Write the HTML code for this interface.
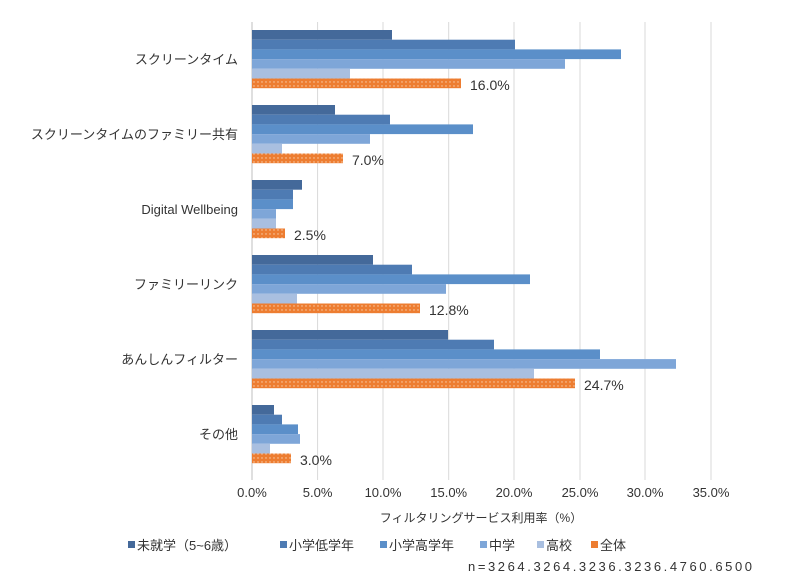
<!DOCTYPE html>
<html><head><meta charset="utf-8"><style>
body{margin:0;background:#fff;}
svg text{font-family:"Liberation Sans","Noto Sans CJK JP",sans-serif;fill:#333;}
</style></head><body>
<svg width="800" height="578" xmlns="http://www.w3.org/2000/svg">
<defs>
<pattern id="dots" width="4" height="4" patternUnits="userSpaceOnUse">
<rect width="4" height="4" fill="#ed7d31"/><circle cx="2" cy="2" r="0.7" fill="#f8d0b0"/>
</pattern>
</defs>
<g stroke="#d9d9d9" stroke-width="1">
<line x1="317.6" y1="22" x2="317.6" y2="480"/><line x1="383" y1="22" x2="383" y2="480"/>
<line x1="448.7" y1="22" x2="448.7" y2="480"/><line x1="514" y1="22" x2="514" y2="480"/>
<line x1="580" y1="22" x2="580" y2="480"/><line x1="645" y1="22" x2="645" y2="480"/>
<line x1="711" y1="22" x2="711" y2="480"/>
</g>
<line x1="252" y1="22" x2="252" y2="480" stroke="#bfbfbf"/>
<g>
<rect x="252" y="30" width="140" height="9.7" fill="#44699a"/>
<rect x="252" y="39.7" width="263" height="9.7" fill="#4e7bb3"/>
<rect x="252" y="49.4" width="369" height="9.7" fill="#5b8fc9"/>
<rect x="252" y="59.1" width="313" height="9.7" fill="#7ea6d8"/>
<rect x="252" y="68.8" width="98" height="9.7" fill="#a9bfe0"/>
<rect x="252" y="78.5" width="209" height="9.7" fill="url(#dots)"/>

<rect x="252" y="105" width="83" height="9.7" fill="#44699a"/>
<rect x="252" y="114.7" width="138" height="9.7" fill="#4e7bb3"/>
<rect x="252" y="124.4" width="221" height="9.7" fill="#5b8fc9"/>
<rect x="252" y="134.1" width="118" height="9.7" fill="#7ea6d8"/>
<rect x="252" y="143.8" width="30" height="9.7" fill="#a9bfe0"/>
<rect x="252" y="153.5" width="91" height="9.7" fill="url(#dots)"/>

<rect x="252" y="180" width="50" height="9.7" fill="#44699a"/>
<rect x="252" y="189.7" width="41" height="9.7" fill="#4e7bb3"/>
<rect x="252" y="199.4" width="41" height="9.7" fill="#5b8fc9"/>
<rect x="252" y="209.1" width="24" height="9.7" fill="#7ea6d8"/>
<rect x="252" y="218.8" width="24" height="9.7" fill="#a9bfe0"/>
<rect x="252" y="228.5" width="33" height="9.7" fill="url(#dots)"/>

<rect x="252" y="255" width="121" height="9.7" fill="#44699a"/>
<rect x="252" y="264.7" width="160" height="9.7" fill="#4e7bb3"/>
<rect x="252" y="274.4" width="278" height="9.7" fill="#5b8fc9"/>
<rect x="252" y="284.1" width="194" height="9.7" fill="#7ea6d8"/>
<rect x="252" y="293.8" width="45" height="9.7" fill="#a9bfe0"/>
<rect x="252" y="303.5" width="168" height="9.7" fill="url(#dots)"/>

<rect x="252" y="330" width="196" height="9.7" fill="#44699a"/>
<rect x="252" y="339.7" width="242" height="9.7" fill="#4e7bb3"/>
<rect x="252" y="349.4" width="348" height="9.7" fill="#5b8fc9"/>
<rect x="252" y="359.1" width="424" height="9.7" fill="#7ea6d8"/>
<rect x="252" y="368.8" width="282" height="9.7" fill="#a9bfe0"/>
<rect x="252" y="378.5" width="323" height="9.7" fill="url(#dots)"/>

<rect x="252" y="405" width="22" height="9.7" fill="#44699a"/>
<rect x="252" y="414.7" width="30" height="9.7" fill="#4e7bb3"/>
<rect x="252" y="424.4" width="46" height="9.7" fill="#5b8fc9"/>
<rect x="252" y="434.1" width="48" height="9.7" fill="#7ea6d8"/>
<rect x="252" y="443.8" width="18" height="9.7" fill="#a9bfe0"/>
<rect x="252" y="453.5" width="39" height="9.7" fill="url(#dots)"/>
</g>
<g font-size="14">
<text x="470" y="90">16.0%</text>
<text x="352" y="165">7.0%</text>
<text x="294" y="240">2.5%</text>
<text x="429" y="315">12.8%</text>
<text x="584" y="390">24.7%</text>
<text x="300" y="465">3.0%</text>
</g>
<g font-size="13" text-anchor="end">
<text x="238" y="64">スクリーンタイム</text>
<text x="238" y="139">スクリーンタイムのファミリー共有</text>
<text x="238" y="214">Digital Wellbeing</text>
<text x="238" y="289">ファミリーリンク</text>
<text x="238" y="364">あんしんフィルター</text>
<text x="238" y="439">その他</text>
</g>
<g font-size="13" text-anchor="middle">
<text x="252" y="497">0.0%</text><text x="317.6" y="497">5.0%</text><text x="383" y="497">10.0%</text>
<text x="448.7" y="497">15.0%</text><text x="514" y="497">20.0%</text><text x="580" y="497">25.0%</text>
<text x="645" y="497">30.0%</text><text x="711" y="497">35.0%</text>
<text x="481" y="522" font-size="12">フィルタリングサービス利用率（%）</text>
</g>
<g font-size="13">
<rect x="128" y="541" width="7" height="7" fill="#44699a"/><text x="137" y="550">未就学（5~6歳）</text>
<rect x="280" y="541" width="7" height="7" fill="#4e7bb3"/><text x="289" y="550">小学低学年</text>
<rect x="380" y="541" width="7" height="7" fill="#5b8fc9"/><text x="389" y="550">小学高学年</text>
<rect x="480" y="541" width="7" height="7" fill="#7ea6d8"/><text x="489" y="550">中学</text>
<rect x="537" y="541" width="7" height="7" fill="#a9bfe0"/><text x="546" y="550">高校</text>
<rect x="591" y="541" width="7" height="7" fill="#ed7d31"/><text x="600" y="550">全体</text>
<text x="468" y="571" textLength="284" lengthAdjust="spacing">n=3264.3264.3236.3236.4760.6500</text>
</g>
</svg>
</body></html>
